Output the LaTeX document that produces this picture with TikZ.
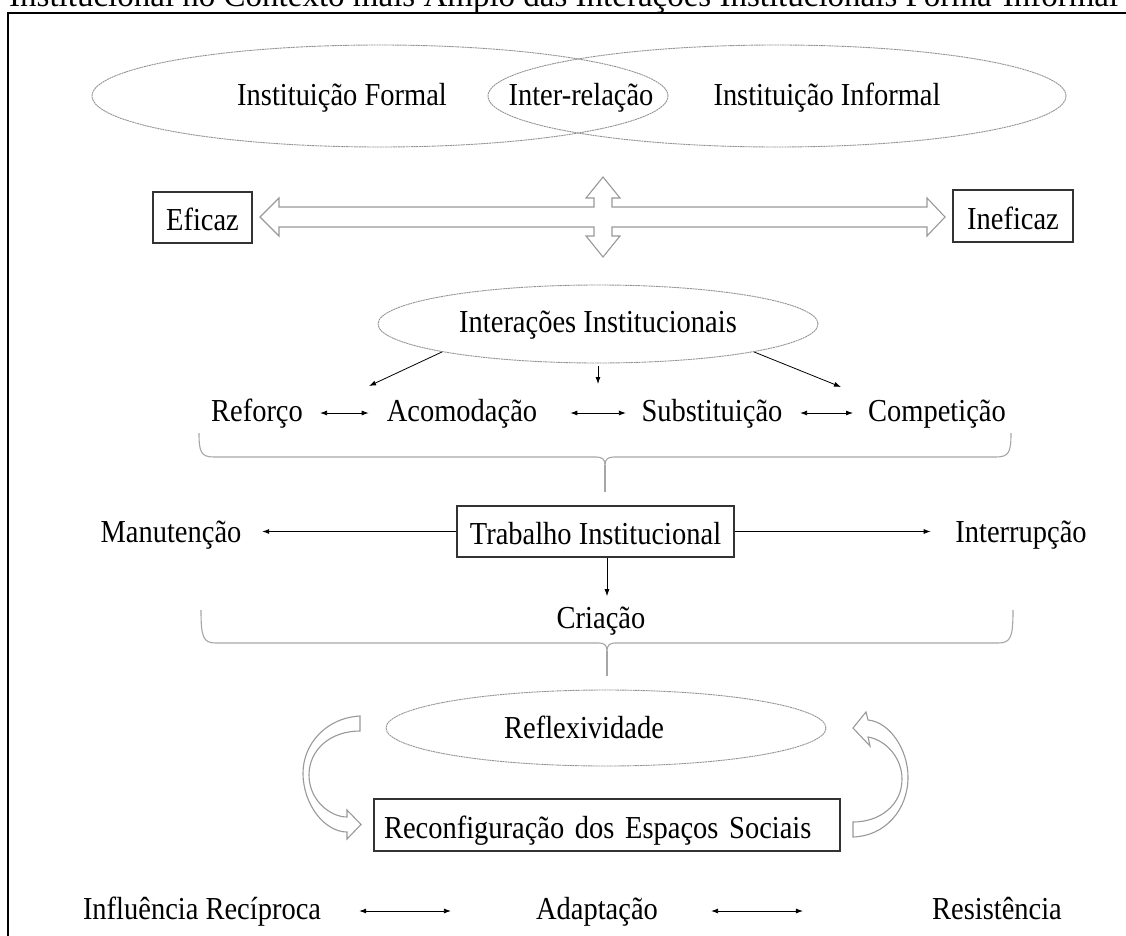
\documentclass[tikz,border=0pt]{standalone}
\usepackage{fontspec}
\setmainfont{Liberation Serif}[FakeStretch=0.89]
\newfontfamily\titlefont{Liberation Serif}
\usetikzlibrary{positioning,arrows.meta,shapes.geometric}

\begin{document}
\begin{tikzpicture}[x=1pt, y=-1pt,
  every node/.style={font=\fontsize{32pt}{38pt}\selectfont, inner sep=0pt, text height=22pt, text depth=6pt},
  box/.style={draw=black!80, line width=1.4pt, fill=white, text height=26pt, text depth=0pt},
  oval/.style={ellipse, draw=gray!85, line width=0.9pt, dash pattern=on 2pt off 0.6pt},
  arr/.style={-{Latex[length=7pt,width=5pt]}, line width=0.8pt},
  dbl/.style={{Latex[length=7pt,width=5pt]}-{Latex[length=7pt,width=5pt]}, line width=0.8pt},
  bigarrow/.style={draw=gray!80, line width=1.1pt, fill=white, line join=miter},
  brace/.style={draw=gray!70, line width=1.1pt}]
  \useasboundingbox (0,0) rectangle (1126,936);
  \clip (0,0) rectangle (1126,936);

  \node[anchor=base west, font=\titlefont\fontsize{33pt}{40pt}\selectfont] (title) at (9,7) {Institucional no Contexto mais Amplo das Interações Institucionais Forma-Informal};
  \draw[line width=1.5pt] (8,936) -- (8,13) -- (1126,13);

  % formal / informal
  \node[oval, minimum width=576pt, minimum height=102pt] (formal) at (380,96) {};
  \node[oval, minimum width=578pt, minimum height=102pt] (informal) at (777,96) {};
  \node at (342,98) {Instituição Formal};
  \node at (581,98) {Inter-relação};
  \node at (827,98) {Instituição Informal};

  \node[box, minimum width=99pt, minimum height=51pt] (eficaz) at (202.5,217.5) {Eficaz};
  \node[box, minimum width=120pt, minimum height=52pt] (ineficaz) at (1013,216) {Ineficaz};
  \coordinate (cruz) at (603,217);
  \draw[bigarrow, shift={(cruz)}] (-343,0) -- (-324,-19) -- (-324,-10) -- (-9,-10) -- (-9,-19) -- (-17,-19)
    -- (0,-40) -- (17,-19) -- (9,-19) -- (9,-10) -- (324,-10) -- (324,-19) -- (342,0) -- (324,19)
    -- (324,10) -- (9,10) -- (9,19) -- (17,19) -- (0,40) -- (-17,19) -- (-9,19) -- (-9,10)
    -- (-324,10) -- (-324,19) -- cycle;

  % interacoes
  \node[oval, minimum width=440pt, minimum height=78pt] (interacoes) at (598,324) {Interações Institucionais};
  \coordinate (pl) at (369,386);
  \coordinate (pm) at (598,384);
  \coordinate (pr) at (841,387);
  \draw[arr] (interacoes.south west) -- (pl);
  \draw[arr, shorten <=3pt] (interacoes.south) -- (pm);
  \draw[arr] (interacoes.south east) -- (pr);

  \node (reforco) at (257,413) {Reforço};
  \node (acomod) at (462,413) {Acomodação};
  \node (subst) at (712,413) {Substituição};
  \node (compet) at (937,413) {Competição};
  \draw[dbl, shorten <=17pt, shorten >=18pt] (reforco) -- (acomod);
  \draw[dbl, shorten <=33pt, shorten >=15.5pt] (acomod) -- (subst);
  \draw[dbl, shorten <=17.5pt, shorten >=15pt] (subst) -- (compet);

  \draw[brace] (199,433) .. controls (199,452) and (201,457) .. (214,457) -- (596,457)
    .. controls (602,457) and (605,459) .. (605,465) .. controls (605,459) and (608,457) .. (614,457)
    -- (996,457) .. controls (1009,457) and (1011,452) .. (1011,433);
  \draw[brace] (605,465) -- (605,492);

  % trabalho institucional
  \node[box, minimum width=277pt, minimum height=51pt] (trab) at (595.5,531.5) {Trabalho Institucional};
  \node (manut) at (171,534) {Manutenção};
  \node (interr) at (1021,534) {Interrupção};
  \node (criacao) at (601,620) {Criação};
  \draw[arr, shorten >=20.6pt] (trab.west) -- (manut.east |- trab.west);
  \draw[arr, shorten >=24.5pt] (trab.east) -- (interr.west |- trab.east);
  \draw[arr, shorten >=9.6pt] ([xshift=11.5pt]trab.south) -- ([xshift=6pt]criacao.north);

  \draw[brace] (201,610) .. controls (201,637) and (203,643) .. (216,643) -- (599,643)
    .. controls (604,643) and (607,645) .. (607,651) .. controls (607,645) and (610,643) .. (615,643)
    -- (998,643) .. controls (1011,643) and (1013,637) .. (1013,610);
  \draw[brace] (607,651) -- (607,676);

  % ciclo
  \node[oval, minimum width=440pt, minimum height=76pt] (reflex) at (606,728) {};
  \node at (584,730) {Reflexividade};
  \node[box, text width=446pt, align=left, inner xsep=10pt, minimum height=52pt] (reconf) at (607,825) {Reconfiguração dos Espaços Sociais};
  \draw[bigarrow] (360,716) .. controls (325,718) and (303,745) .. (303,773)
    .. controls (303,805) and (325,832) .. (347,832) -- (347,839) -- (361,824.5) -- (347,810) -- (347,817)
    .. controls (330,817) and (309,800) .. (309,775) .. controls (309,750) and (330,731) .. (360,731) -- cycle;
  \draw[bigarrow] (853,822) -- (853,837) .. controls (885,836) and (908,810) .. (908,777)
    .. controls (908,750) and (890,722) .. (868,720) -- (866,712) -- (853,728) -- (870,746) -- (868,737)
    .. controls (886,740) and (902,758) .. (902,779) .. controls (902,805) and (880,822) .. (853,822) -- cycle;

  \node (influ) at (202,911) {Influência Recíproca};
  \node (adapt) at (597,911) {Adaptação};
  \node (resist) at (997,911) {Resistência};
  \draw[dbl, shorten <=38pt, shorten >=85pt] (influ) -- (adapt);
  \draw[dbl, shorten <=53pt, shorten >=129pt] (adapt) -- (resist);
\end{tikzpicture}
\end{document}
